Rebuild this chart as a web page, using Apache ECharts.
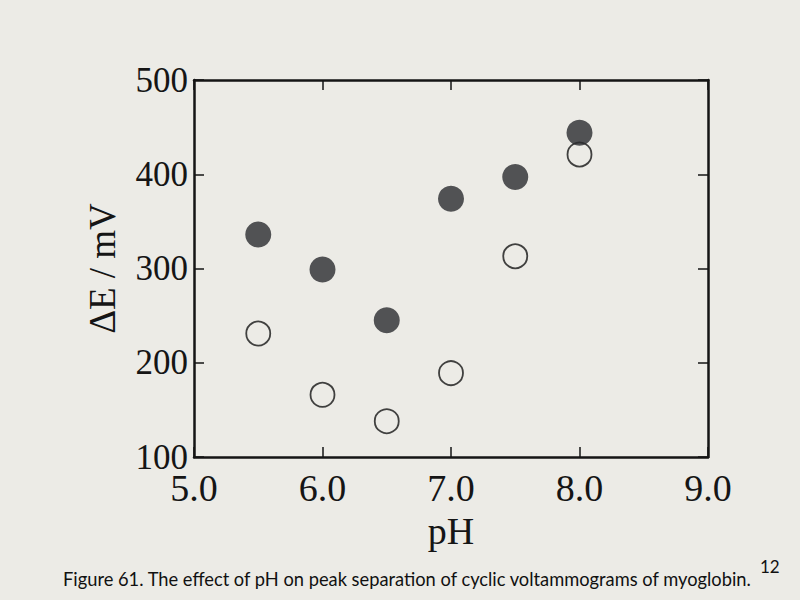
<!DOCTYPE html>
<html>
<head>
<meta charset="utf-8">
<script src="https://cdn.jsdelivr.net/npm/echarts@6/dist/echarts.min.js"></script>
<style>
  html, body { margin: 0; padding: 0; background: #ecebe6; }
  #chart { width: 800px; height: 600px; }
</style>
</head>
<body>
<div id="chart"></div>
<script>
// pH values shared by both series
const phValues = [5.5, 6.0, 6.5, 7.0, 7.5, 8.0];
// peak separation, mV (filled circles)
const filledDeltaE = [336, 299, 245, 374, 397, 444];
// peak separation, mV (open circles)
const openDeltaE = [231, 166, 138, 189, 313, 421];

const xTicks = [5.0, 6.0, 7.0, 8.0, 9.0];
const yTicks = [100, 200, 300, 400, 500];

let chartDom = document.getElementById('chart');
let myChart = echarts.init(chartDom, null, { renderer: 'svg' });

const serif = '"Liberation Serif", "DejaVu Serif", serif';
const ink = '#151515';

function pairs(xs, ys) {
    return xs.map(function (x, i) { return [x, ys[i]]; });
}

function axisBase(extra) {
    return Object.assign({
        type: 'value',
        axisLine: { show: true, onZero: false, lineStyle: { color: ink, width: 2.5 } },
        axisTick: { show: true, inside: true, length: 10, lineStyle: { color: ink, width: 1.5 } },
        splitLine: { show: false }
    }, extra);
}

let option = {
    backgroundColor: '#ecebe6',
    animation: false,
    title: [
        {
            text: 'Figure 61. The effect of pH on peak separation of cyclic voltammograms of myoglobin.',
            left: 58,
            top: 565,
            textStyle: { fontFamily: 'Lato, "Noto Sans", sans-serif', fontSize: 18.3, fontWeight: 'normal', color: '#111' }
        },
        {
            text: '12',
            left: 755,
            top: 553,
            textStyle: { fontFamily: 'Lato, "Noto Sans", sans-serif', fontSize: 17, fontWeight: 'normal', color: '#111' }
        }
    ],
    grid: { left: 194, right: 92, top: 80, bottom: 143 },
    xAxis: [
        axisBase({
            position: 'bottom',
            min: xTicks[0],
            max: xTicks[xTicks.length - 1],
            interval: 1,
            name: 'pH',
            nameLocation: 'middle',
            nameGap: 54,
            nameTextStyle: { fontFamily: serif, fontSize: 38, color: ink },
            axisLabel: {
                margin: 12,
                fontFamily: serif,
                fontSize: 38,
                color: ink,
                formatter: function (v) { return v.toFixed(1); }
            }
        }),
        axisBase({
            position: 'top',
            min: xTicks[0],
            max: xTicks[xTicks.length - 1],
            interval: 1,
            axisLabel: { show: false }
        })
    ],
    yAxis: [
        axisBase({
            position: 'left',
            min: yTicks[0],
            max: yTicks[yTicks.length - 1],
            interval: 100,
            name: 'ΔE / mV',
            nameLocation: 'middle',
            nameGap: 73,
            nameTextStyle: { fontFamily: serif, fontSize: 37, color: ink },
            axisLabel: { margin: 6, fontFamily: serif, fontSize: 35, color: ink }
        }),
        axisBase({
            position: 'right',
            min: yTicks[0],
            max: yTicks[yTicks.length - 1],
            interval: 100,
            axisLabel: { show: false }
        })
    ],
    series: [
        {
            type: 'scatter',
            data: pairs(phValues, openDeltaE),
            symbol: 'circle',
            symbolSize: 24,
            itemStyle: { color: 'rgba(0,0,0,0)', borderColor: ink, borderWidth: 1.8 },
            z: 3
        },
        {
            type: 'scatter',
            data: pairs(phValues, filledDeltaE),
            symbol: 'circle',
            symbolSize: 26,
            itemStyle: { color: '#2a2c30' },
            z: 4
        }
    ]
};

option && myChart.setOption(option);
</script>
</body>
</html>
